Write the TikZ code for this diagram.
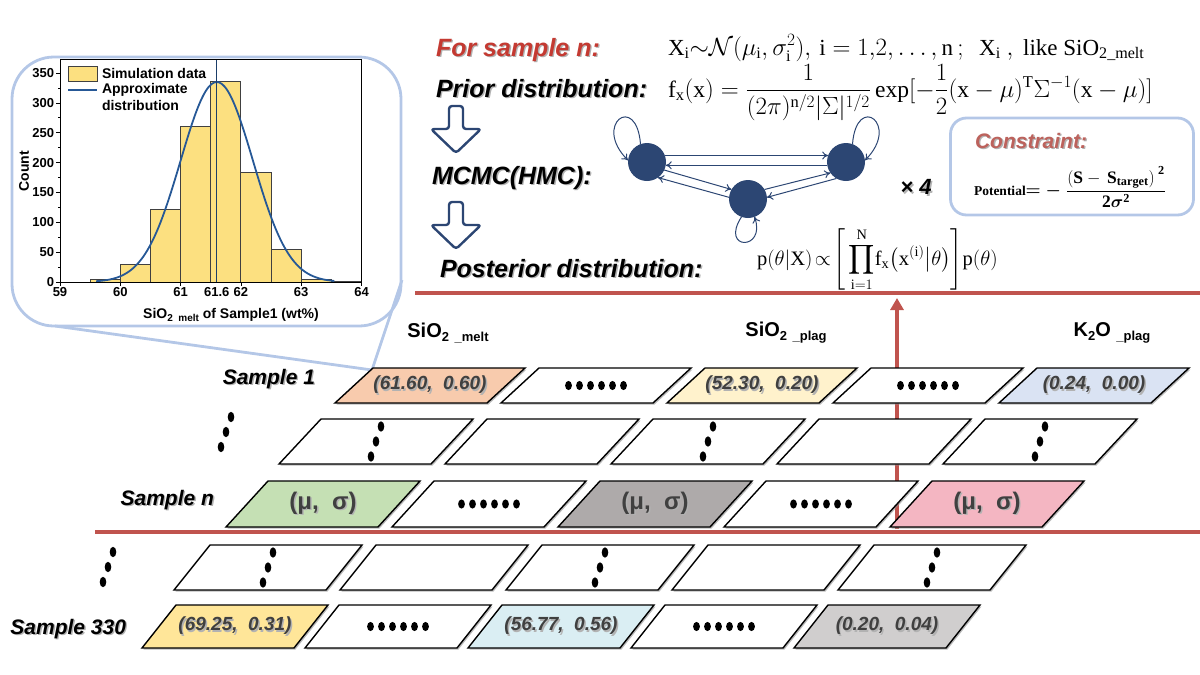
\documentclass[tikz,border=0pt]{standalone}
\usepackage{amsmath}
\usepackage{amssymb}
\usepackage{bm}
\usepackage{fontspec}
\setmainfont{Liberation Serif}
\setsansfont{Liberation Sans}
\usetikzlibrary{positioning,arrows.meta,shadows}

\definecolor{sepred}{RGB}{192,84,78}
\definecolor{titlered}{RGB}{196,58,50}
\definecolor{consred}{RGB}{188,98,92}
\definecolor{mcmcblue}{RGB}{44,70,115}
\definecolor{callblue}{RGB}{180,199,231}
\definecolor{baryellow}{RGB}{252,224,128}
\definecolor{curveblue}{RGB}{38,88,150}
\definecolor{valgray}{RGB}{64,64,64}
\definecolor{cOrange}{RGB}{248,203,173}
\definecolor{cCream}{RGB}{255,242,204}
\definecolor{cBlue}{RGB}{218,227,243}
\definecolor{cGreen}{RGB}{197,224,180}
\definecolor{cGray}{RGB}{174,170,170}
\definecolor{cPink}{RGB}{244,182,194}
\definecolor{cYellow}{RGB}{255,230,153}
\definecolor{cCyan}{RGB}{218,238,243}
\definecolor{cStone}{RGB}{208,206,206}

\newcommand{\setpx}[1]{\fontsize{#1}{#1}\selectfont}
\newcommand{\shtext}[1]{\makebox[0pt][l]{\hspace{1.4pt}\raisebox{-1.4pt}{\color{black!30}#1}}#1}

\tikzset{
  every node/.style={inner sep=0pt, outer sep=0pt},
  steplabel/.style={anchor=base west, font=\sffamily\bfseries\itshape\setpx{25}},
  rowlabel/.style={anchor=base east, font=\sffamily\bfseries\itshape\setpx{21}},
  headlabel/.style={font=\sffamily\bfseries\setpx{20}},
  formula/.style={anchor=base west, font=\rmfamily\setpx{20}},
  cellbox/.style={draw=black, line width=1.4pt, drop shadow={shadow xshift=1.5pt, shadow yshift=-1.5pt, fill=black!45, opacity=0.6}},
  valtext/.style={font=\sffamily\bfseries\itshape\setpx{19}, text=valgray},
  mutext/.style={font=\sffamily\bfseries\setpx{24}, text=valgray},
  state/.style={circle, fill=mcmcblue, minimum size=38pt},
  chain/.style={draw=mcmcblue, line width=1pt, -{To[length=6pt,width=8pt]}},
  sepline/.style={draw=sepred, line width=4.5pt},
  callout/.style={draw=callblue, line width=2.8pt},
  histfont/.style={font=\sffamily\bfseries\setpx{13}},
  bar/.style={draw=black!75, line width=0.9pt, fill=baryellow},
  hdots/.pic={\foreach \m in {0,...,5} \fill ({\m*11-27.5},0) ellipse (3.4 and 4.6);},
  vdots/.pic={\foreach \m in {-1,0,1} \fill ({\m*5},{-\m*15}) ellipse (3.3 and 5.2);},
  downarrow/.pic={\draw[draw=mcmcblue, line width=2.4pt, fill=white, rounded corners=3pt, line join=round]
    (-7,-23) -- (7,-23) -- (7,0) -- (25,0) -- (0,24) -- (-25,0) -- (-7,0) -- cycle;}
}

\begin{document}
\begin{tikzpicture}[x=1pt, y=-1pt]
\useasboundingbox (0,0) rectangle (1200,675);

% callout with the histogram of sample 1
\draw[callout, rounded corners=42pt] (12,57) rectangle (401,326);
\coordinate (tailtip) at (372,370);
\draw[callout, line join=round] (55,326) -- (tailtip) -- (402,280);

\begin{scope}[shift={(60,282)}, x=60.3pt, y=0.597pt]
  \foreach \a/\h in {59.5/4, 60/30, 60.5/122, 61/260, 61.5/336, 62/184, 62.5/54, 63/4, 63.5/1}
    \draw[bar] ({\a-59},0) rectangle ({\a-58.5},\h);
  \draw[curveblue, line width=1.8pt] plot[domain=59.6:63.55, samples=90, smooth] ({\x-59},{335*exp(-((\x-61.6)^2)/0.72)});
  \draw[curveblue!70!black, line width=1.2pt] (2.6,0) -- (2.6,373);
  \draw[line width=0.9pt] (0,0) rectangle (5,373);
  \foreach \v in {0,50,...,350} {
    \draw[line width=0.8pt] (0,\v) -- ++(-4pt,0);
    \node[histfont, anchor=east] (ylab\v) at ([xshift=-6pt]0,\v) {\v};
  }
  \foreach \v in {25,75,...,325}
    \draw[line width=0.8pt] (0,\v) -- ++(-2.5pt,0);
  \foreach \t in {59,...,64} {
    \draw[line width=0.8pt] ({\t-59},0) -- ++(0,-4pt);
    \node[histfont, anchor=north] (xlab\t) at ([yshift=-5pt]{\t-59},0) {\t};
  }
  \node[histfont, anchor=north] (xlabmean) at ([yshift=-5pt]2.6,0) {61.6};
\end{scope}
\node[histfont, font=\sffamily\bfseries\setpx{14}, rotate=90] (countlab) at (24,171) {Count};
\node[histfont, font=\sffamily\bfseries\setpx{14}] (xaxlab) at (231,315)
  {SiO\raisebox{-3pt}{\setpx{10}2\ \ melt} of Sample1 (wt\%)};
\draw[bar] (68,66) rectangle (97,81);
\draw[curveblue, line width=1.8pt] (68,90) -- (97,90);
\node[histfont, font=\sffamily\bfseries\setpx{14}, anchor=west] (legbar) at (102,73.5) {Simulation data};
\node[histfont, font=\sffamily\bfseries\fontsize{14}{17}\selectfont, anchor=north west, align=left] (legcurve) at (102,83) {Approximate\\distribution};

% workflow for one sample
\node[steplabel, text=titlered] (forn) at (436,56) {\shtext{For sample n:}};
\node[steplabel] (prior) at (436,97) {\shtext{Prior distribution:}};
\node[steplabel] (mcmc) at (432,184) {\shtext{MCMC(HMC):}};
\node[steplabel] (post) at (440,277) {\shtext{Posterior distribution:}};
\pic at (456,129) {downarrow};
\pic at (456,225) {downarrow};

\node[formula, font=\rmfamily\setpx{23}] (normdef) at (668,55)
  {$\mathrm{X_i}{\sim}\mathcal{N}(\mu_{\mathrm{i}},\sigma_{\mathrm{i}}^{2}),\,\mathrm{i}=1{,}2{,}\ldots{,}\,\mathrm{n}\,;\ \ \mathrm{X_i}\ ,\ \text{like}\ \mathrm{SiO_{2\_melt}}$};
\node[formula, font=\rmfamily\setpx{23.5}] (priorpdf) at (668,97)
  {$\mathrm{f_x(x)}=\dfrac{1}{(2\pi)^{\mathrm{n}/2}|\Sigma|^{1/2}}\exp[-\dfrac{1}{2}(\mathrm{x}-\mu)^{\mathrm{T}}\Sigma^{-1}(\mathrm{x}-\mu)]$};
\node[formula, font=\rmfamily\setpx{20.5}] (postpdf) at (757,265)
  {$\displaystyle \mathrm{p}(\theta|\mathrm{X})\!\propto\!\Bigg[\prod_{\mathrm{i}=1}^{\mathrm{N}}\!\mathrm{f_x}\bigl(\mathrm{x}^{(\mathrm{i})}\big|\theta\bigr)\Bigg]\mathrm{p}(\theta)$};

% Markov chain
\node[state] (A) at (647,162) {};
\node[state] (B) at (846,162) {};
\node[state] (C) at (748,199) {};
\draw[chain] (A.20) -- (B.160);
\draw[chain] (B.190) -- (A.350);
\draw[chain] (A.-25) -- (C.150);
\draw[chain] (C.175) -- (A.-55);
\draw[chain] (C.30) -- (B.215);
\draw[chain] (B.240) -- (C.5);
\draw[chain] (A.110) .. controls +(-4,-52) and +(-36,-36) .. (A.175);
\draw[chain] (B.70) .. controls +(4,-52) and +(36,-36) .. (B.5);
\draw[chain] (C.250) .. controls +(-22,34) and +(12,34) .. (C.290);
\node[font=\sffamily\bfseries\itshape\setpx{22}] (times) at (916,188) {\shtext{× 4}};

\node[draw=callblue, line width=2.8pt, rounded corners=16pt, minimum width=243pt, minimum height=97pt] (consbox) at (1072,166.5) {};
\node[anchor=base west, font=\sffamily\bfseries\itshape\setpx{21}, text=consred] (constitle) at (975,148) {\shtext{Constraint:}};
\node[anchor=west] (consform) at (974,187)
  {{\rmfamily\bfseries\setpx{13.5}Potential}{\setpx{19}$\bm{=}\bm{-}$}\ \ {\setpx{17.5}$\dfrac{\mathbf{(S-\,S_{target})}^{\;\mathbf{2}}}{\mathbf{2}\bm{\sigma}^{\mathbf{2}}}$}};

% separators and the column arrow
\draw[sepline] (415,293) -- (1200,293);
\draw[sepline] (95,532) -- (1200,532);
\coordinate (colfoot) at (897,529);
\coordinate (posttop) at (897,298);
\draw[draw=sepred, line width=4pt, -{Triangle[width=13pt,length=12pt]}] (colfoot) -- (posttop);

% column headers
\node[headlabel] (hmelt) at (448,333) {SiO\raisebox{-4pt}{\setpx{13}2}\ \raisebox{-4pt}{\setpx{13}\_melt}};
\node[headlabel] (hplag) at (786,333) {SiO\raisebox{-4pt}{\setpx{13}2}\ \raisebox{-4pt}{\setpx{13}\_plag}};
\node[headlabel] (hkplag) at (1112,333) {K\raisebox{-4pt}{\setpx{13}2}O\ \raisebox{-4pt}{\setpx{13}\_plag}};

% sample 1
\node[rowlabel] (row1) at (315,384) {\shtext{Sample 1}};
\foreach \fc [count=\k from 0] in {cOrange,white,cCream,white,cBlue}
  \draw[cellbox, fill=\fc] ({373+166*\k},368) -- ++(152,0) -- ++(-38,35) -- ++(-152,0) -- cycle;
\node[valtext] (s1melt) at (430,385.5) {\shtext{(61.60,\ \ 0.60)}};
\node[valtext] (s1plag) at (762,385.5) {\shtext{(52.30,\ \ 0.20)}};
\node[valtext] (s1kplag) at (1094,385.5) {\shtext{(0.24,\ \ 0.00)}};
\pic at (596,385.5) {hdots};
\pic at (928,385.5) {hdots};

% samples between
\pic at (226,432) {vdots};
\foreach \k in {0,...,4}
  \draw[cellbox, fill=white] ({321+166*\k},419) -- ++(152,0) -- ++(-42,45) -- ++(-152,0) -- cycle;
\foreach \k in {0,2,4}
  \pic at ({376+166*\k},441.5) {vdots};

% sample n
\node[rowlabel] (rown) at (214,505) {\shtext{Sample n}};
\foreach \fc [count=\k from 0] in {cGreen,white,cGray,white,cPink}
  \draw[cellbox, fill=\fc] ({268+166*\k},481) -- ++(152,0) -- ++(-42,46) -- ++(-152,0) -- cycle;
\node[mutext] (snmelt) at (323,504) {\shtext{(μ,\ \ σ)}};
\node[mutext] (snplag) at (655,504) {\shtext{(μ,\ \ σ)}};
\node[mutext] (snkplag) at (987,504) {\shtext{(μ,\ \ σ)}};
\pic at (489,504) {hdots};
\pic at (821,504) {hdots};

% samples after
\pic at (108,567) {vdots};
\foreach \k in {0,...,4}
  \draw[cellbox, fill=white] ({210+166*\k},545) -- ++(152,0) -- ++(-36,45) -- ++(-152,0) -- cycle;
\foreach \k in {0,2,4}
  \pic at ({268+166*\k},567.5) {vdots};

% sample 330
\node[rowlabel] (row330) at (126,634) {\shtext{Sample 330}};
\foreach \fc [count=\k from 0] in {cYellow,white,cCyan,white,cStone}
  \draw[cellbox, fill=\fc] ({176+163*\k},605) -- ++(152,0) -- ++(-34,43) -- ++(-152,0) -- cycle;
\node[valtext] (s330melt) at (235,626.5) {\shtext{(69.25,\ \ 0.31)}};
\node[valtext] (s330plag) at (561,626.5) {\shtext{(56.77,\ \ 0.56)}};
\node[valtext] (s330kplag) at (887,626.5) {\shtext{(0.20,\ \ 0.04)}};
\pic at (398,626.5) {hdots};
\pic at (724,626.5) {hdots};
\end{tikzpicture}
\end{document}
